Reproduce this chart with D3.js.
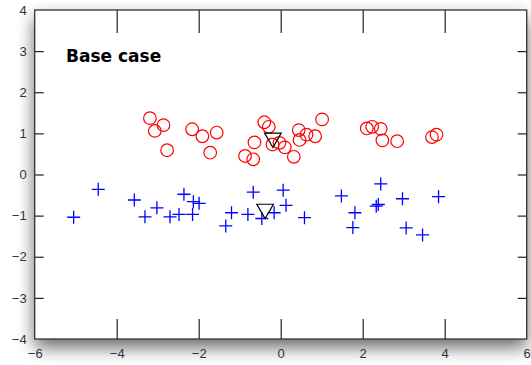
<!DOCTYPE html>
<html>
<head>
<meta charset="UTF-8">
<title>Base case</title>
<script src="https://d3js.org/d3.v7.min.js"></script>
<style>
    body { margin: 0; background: #fff; }
    svg { display: block; font-family: "DejaVu Sans", sans-serif; }
    .axis text { font-size: 13px; fill: #333; }
    .axis line { stroke: #222; stroke-width: 1.2; }
</style>
</head>
<body>
<svg id="chart" width="531" height="365"></svg>
<script>
    // red circles (first group)
    const redX = [-3.19, -3.07, -2.86, -2.77, -2.16, -1.91, -1.56, -1.72, -0.87, -0.67,
        -0.64, -0.40, -0.29, -0.20, -0.03, 0.10, 0.32, 0.44, 0.46, 0.63,
        0.84, 1.01, 2.10, 2.23, 2.44, 2.48, 2.84, 3.69, 3.80];
    const redY = [1.37, 1.06, 1.20, 0.59, 1.10, 0.93, 1.02, 0.53, 0.45, 0.37,
        0.78, 1.27, 1.16, 0.73, 0.77, 0.66, 0.43, 1.08, 0.84, 0.97,
        0.93, 1.34, 1.12, 1.16, 1.11, 0.83, 0.81, 0.91, 0.97];

    // blue pluses (second group)
    const blueX = [-5.05, -4.45, -3.57, -3.31, -3.02, -2.70, -2.48, -2.36, -2.13, -1.99,
        -2.15, -1.34, -1.20, -0.80, -0.67, -0.46, -0.16, 0.06, 0.13, 0.58,
        1.48, 1.81, 1.76, 2.33, 2.38, 2.44, 2.97, 3.06, 3.46, 3.85];
    const blueY = [-1.04, -0.36, -0.62, -1.03, -0.81, -1.03, -0.97, -0.48, -0.66, -0.70,
        -0.97, -1.25, -0.93, -0.97, -0.43, -1.07, -0.93, -0.38, -0.75, -1.05,
        -0.52, -0.93, -1.29, -0.77, -0.73, -0.23, -0.59, -1.30, -1.47, -0.54];

    // black triangles (group means)
    const meanX = [-0.19, -0.38];
    const meanY = [0.89, -0.84];

    const xTicks = [-6, -4, -2, 0, 2, 4, 6];
    const yTicks = [-4, -3, -2, -1, 0, 1, 2, 3, 4];
    const title = "Base case";

    const svg = d3.select("#chart");
    const x = d3.scaleLinear().domain([-6, 6]).range([34.7, 526.7]);
    const y = d3.scaleLinear().domain([-4, 4]).range([339, 10]);

    // 阴影
    const defs = svg.append("defs");
    const f = defs.append("filter").attr("id", "shadow")
        .attr("x", "-20%").attr("y", "-20%").attr("width", "140%").attr("height", "140%");
    f.append("feGaussianBlur").attr("in", "SourceAlpha").attr("stdDeviation", 9).attr("result", "b");
    f.append("feOffset").attr("in", "b").attr("dx", 0).attr("dy", 8).attr("result", "o");
    f.append("feComponentTransfer").attr("in", "o").attr("result", "s")
        .append("feFuncA").attr("type", "linear").attr("slope", 0.62);
    const m = f.append("feMerge");
    m.append("feMergeNode").attr("in", "s");
    m.append("feMergeNode").attr("in", "SourceGraphic");

    const x0 = x(-6), x1 = x(6), y0 = y(4), y1 = y(-4);

    svg.append("rect")
        .attr("x", x0).attr("y", y0)
        .attr("width", x1 - x0).attr("height", y1 - y0)
        .attr("fill", "#fff")
        .attr("filter", "url(#shadow)");

    // 坐标轴
    const inner = xTicks.filter(d => d > -6 && d < 6);
    const innerY = yTicks.filter(d => d > -4 && d < 4);

    svg.append("g").attr("class", "axis")
        .attr("transform", `translate(0,${y1})`)
        .call(d3.axisBottom(x).tickValues(xTicks).tickSize(0).tickPadding(10))
        .call(g => g.select(".domain").remove());
    svg.append("g").attr("class", "axis")
        .attr("transform", `translate(0,${y1})`)
        .call(d3.axisBottom(x).tickValues(inner).tickSize(-20).tickFormat(""))
        .call(g => g.select(".domain").remove());
    svg.append("g").attr("class", "axis")
        .attr("transform", `translate(0,${y0})`)
        .call(d3.axisTop(x).tickValues(inner).tickSize(-23).tickFormat(""))
        .call(g => g.select(".domain").remove());

    svg.append("g").attr("class", "axis")
        .attr("transform", `translate(${x0},0)`)
        .call(d3.axisLeft(y).tickValues(yTicks).tickSize(0).tickPadding(8))
        .call(g => g.select(".domain").remove());
    svg.append("g").attr("class", "axis")
        .attr("transform", `translate(${x0},0)`)
        .call(d3.axisLeft(y).tickValues(innerY).tickSize(-9).tickFormat(""))
        .call(g => g.select(".domain").remove());
    svg.append("g").attr("class", "axis")
        .attr("transform", `translate(${x1},0)`)
        .call(d3.axisRight(y).tickValues(innerY).tickSize(-9).tickFormat(""))
        .call(g => g.select(".domain").remove());

    // 边框
    svg.append("rect")
        .attr("x", x0).attr("y", y0)
        .attr("width", x1 - x0).attr("height", y1 - y0)
        .attr("fill", "none")
        .attr("stroke", "#333")
        .attr("stroke-width", 1.3);

    // 红色圆圈
    svg.append("g").selectAll("circle")
        .data(d3.range(redX.length))
        .join("circle")
        .attr("cx", i => x(redX[i]))
        .attr("cy", i => y(redY[i]))
        .attr("r", 6.3)
        .attr("fill", "none")
        .attr("stroke", "#f00")
        .attr("stroke-width", 1.2);

    // 蓝色加号
    svg.append("g").selectAll("path")
        .data(d3.range(blueX.length))
        .join("path")
        .attr("transform", i => `translate(${x(blueX[i])},${y(blueY[i])})`)
        .attr("d", "M-6.5,0H6.5M0,-6.5V6.5")
        .attr("stroke", "#00f")
        .attr("stroke-width", 1.3)
        .attr("fill", "none");

    // 黑色三角形
    svg.append("g").selectAll("path")
        .data(d3.range(meanX.length))
        .join("path")
        .attr("transform", i => `translate(${x(meanX[i])},${y(meanY[i])}) rotate(180)`)
        .attr("d", d3.symbol(d3.symbolTriangle, 120))
        .attr("fill", "none")
        .attr("stroke", "#000")
        .attr("stroke-width", 1.2);

    // 标题
    svg.append("text")
        .attr("x", 66)
        .attr("y", 62)
        .attr("font-size", "17px")
        .attr("font-weight", "bold")
        .attr("fill", "#000")
        .text(title);
</script>
</body>
</html>
